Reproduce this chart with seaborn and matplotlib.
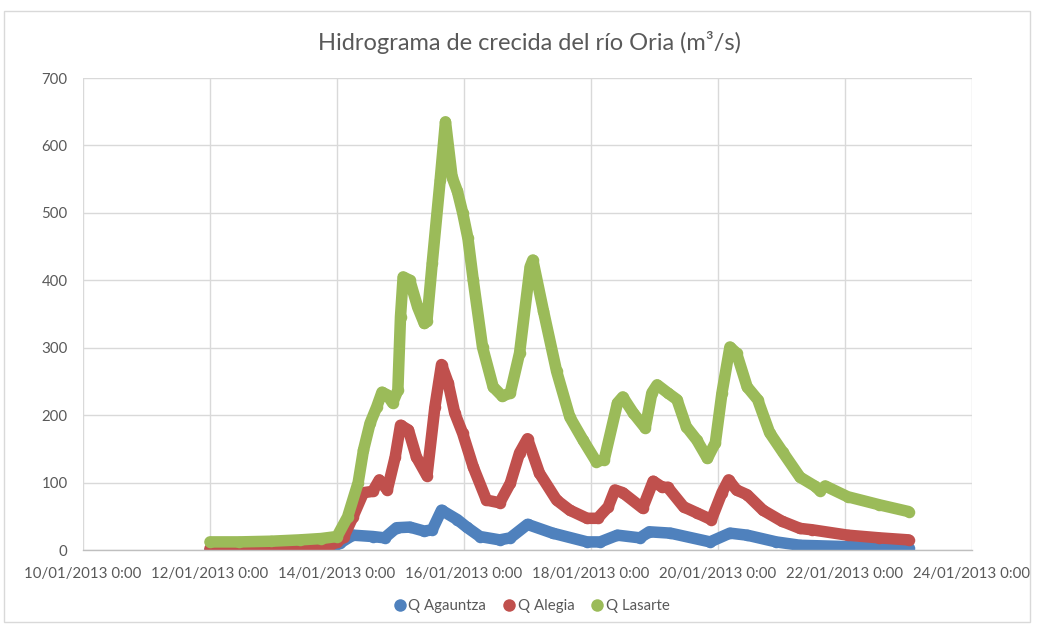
import numpy as np
import pandas as pd
import matplotlib
matplotlib.use("Agg")
import matplotlib.pyplot as plt
import matplotlib.dates as mdates
from matplotlib.lines import Line2D
from matplotlib.patches import Rectangle
import seaborn as sns

# ---- data: hours since 12/01/2013 00:00, discharge m3/s ----
start = pd.Timestamp("2013-01-12 00:00")

agauntza_h = [0, 34, 45.5, 49, 54, 61.5, 66, 70.5, 75.5, 81, 84, 87.5, 93.5, 97, 102,
              109.5, 113.5, 120, 129.5, 142.5, 147.5, 154, 162.5, 166, 174, 189, 196.5,
              203, 214, 223, 241, 264]
agauntza_q = [0, 1, 2, 10, 22, 20, 18, 33, 34, 28, 30, 59, 45, 34, 20,
              15, 18, 38, 25, 12, 12, 22, 18, 27, 25, 12, 25,
              22, 12, 7, 5, 3]

alegia_h = [0, 21.5, 34, 45.5, 48, 50.5, 54, 58, 61.5, 64, 67, 70, 72, 75, 78, 82, 85,
            87.5, 90, 92.5, 95.5, 99.5, 104.5, 109.5, 113.5, 117, 120, 124.5, 131, 136,
            142.5, 146.5, 150.5, 153, 156, 163.5, 167.5, 171, 173, 179, 184, 189.5,
            193.5, 196, 199, 203, 209, 216, 223, 227.5, 241, 253, 264]
alegia_q = [2, 3, 6, 7, 12, 19, 49, 85, 87, 104, 89, 138, 185, 178, 138, 110, 212,
            275, 248, 203, 173, 123, 74, 70, 99, 144, 165, 114, 74, 59,
            47, 47, 64, 89, 85, 62, 102, 93, 93, 64, 55, 45,
            85, 104, 89, 82, 59, 43, 32, 30, 22, 18, 15]

lasarte_h = [0, 11, 23, 34, 42, 48, 52, 56, 58, 60.5, 63, 65, 67, 69, 71, 72, 73, 75.5,
             78.5, 81, 82, 84, 87, 89, 91.5, 93.5, 95.5, 97.5, 99.5, 103, 107, 110.5,
             113.5, 117, 121, 122, 126, 131, 136, 141, 146, 149, 154, 156, 160, 164.5,
             167, 169, 173, 176.5, 180, 184, 188, 191, 193.5, 196.5, 199, 203, 207,
             211.5, 216.5, 223, 228.5, 230.5, 232.5, 241, 253, 264]
lasarte_q = [12, 12, 13, 15, 17, 20, 49, 100, 148, 188, 212, 234, 230, 218, 237, 346,
             405, 400, 360, 336, 340, 426, 549, 635, 553, 532, 500, 462, 400, 301, 242,
             228, 233, 292, 420, 430, 355, 265, 197, 163, 131, 134, 218, 227, 203, 181,
             233, 245, 233, 223, 183, 163, 136, 159, 233, 301, 292, 242, 223, 174, 145,
             108, 95, 88, 95, 79, 67, 57]

series_names = ["Q Agauntza", "Q Alegia", "Q Lasarte"]
series_colors = ["#4F81BD", "#C0504D", "#9BBB59"]

frames = []
for name, hrs, q in zip(series_names,
                        [agauntza_h, alegia_h, lasarte_h],
                        [agauntza_q, alegia_q, lasarte_q]):
    frames.append(pd.DataFrame({
        "time": start + pd.to_timedelta(hrs, unit="h"),
        "Q": q,
        "serie": name,
    }))
df = pd.concat(frames, ignore_index=True)

# ---- style ----
sns.set_theme(style="white")
plt.rcParams["font.family"] = ["Lato", "DejaVu Sans"]
text_gray = "#595959"
grid_gray = "#D9D9D9"

fig = plt.figure(figsize=(10.37, 6.28), dpi=100)
ax = fig.add_axes([83/1037, 1 - 550/628, (972 - 83)/1037, (550 - 78)/628])

sns.lineplot(data=df, x="time", y="Q", hue="serie", hue_order=series_names,
             palette=series_colors, linewidth=8.3, marker="o", markersize=8.3,
             markeredgewidth=0, estimator=None, sort=False, legend=False, ax=ax)
for ln in ax.get_lines():
    ln.set_solid_capstyle("round")
    ln.set_solid_joinstyle("round")

ax.set_xlim(pd.Timestamp("2013-01-10"), pd.Timestamp("2013-01-24"))
ax.set_ylim(0, 700)
ax.set_yticks(np.arange(0, 701, 100))
ax.xaxis.set_major_locator(mdates.DayLocator(interval=2, bymonthday=range(10, 25, 2)))
ax.xaxis.set_major_formatter(plt.FuncFormatter(
    lambda v, p: (lambda d: f"{d:%d/%m/%Y} {d.hour}:{d:%M}")(mdates.num2date(v))))

ax.grid(True, color=grid_gray, linewidth=1.0)
ax.set_axisbelow(True)
for s in ["top", "right", "left"]:
    ax.spines[s].set_visible(False)
ax.spines["bottom"].set_color("#BFBFBF")
ax.spines["bottom"].set_linewidth(1.0)
ax.tick_params(axis="both", length=0, labelsize=10.8, labelcolor=text_gray)
ax.tick_params(axis="x", pad=12)
ax.tick_params(axis="y", pad=11)
ax.set_xlabel("")
ax.set_ylabel("")

fig.text(529/1037, 1 - 43/628, "Hidrograma de crecida del río Oria (m³/s)",
         ha="center", va="center", fontsize=17, color=text_gray)

handles = [Line2D([0], [0], marker="o", linestyle="none", markersize=9,
                  markerfacecolor=c, markeredgewidth=0) for c in series_colors]
fig.legend(handles, series_names, loc="center", bbox_to_anchor=(531/1037, 1 - 606/628),
           ncol=3, frameon=False, fontsize=10.8, labelcolor=text_gray,
           handletextpad=0.1, columnspacing=1.0, handlelength=1.0)

fig.patches.append(Rectangle((4/1037, 6/628), 1026/1037, 611/628,
                             transform=fig.transFigure, fill=False,
                             edgecolor="#D9D9D9", linewidth=1.0))

fig.savefig("out.png", dpi=100, facecolor="white")
